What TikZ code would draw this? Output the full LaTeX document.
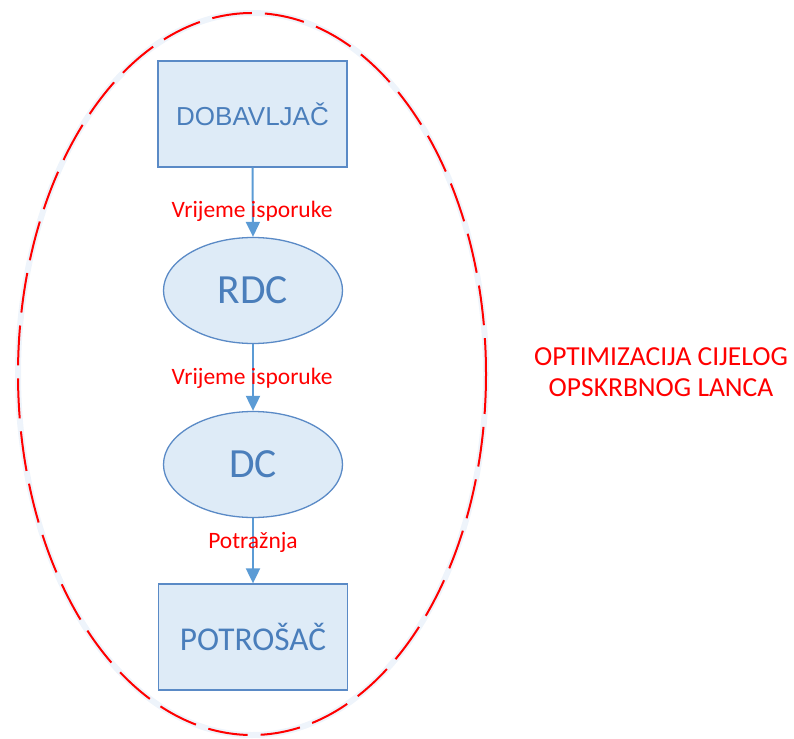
\documentclass[tikz,border=0pt]{standalone}
\usepackage{fontspec}
\setmainfont{Carlito}
\newfontfamily\arialf{Liberation Sans}
\usetikzlibrary{arrows.meta}
\usetikzlibrary{shapes.geometric}
\definecolor{boxfill}{HTML}{DEEBF7}
\definecolor{boxline}{HTML}{5A8AC6}
\definecolor{boxtext}{HTML}{4A7EBB}
\definecolor{arrowc}{HTML}{5B9BD5}
\definecolor{halo}{HTML}{EEF4FB}
\definecolor{myred}{HTML}{FF0000}
\tikzset{
  x=1pt,y=-1pt,
  rectbox/.style={draw=boxline,fill=boxfill,line width=1.3pt,minimum width=189pt,minimum height=106pt,inner sep=0pt,text=boxtext},
  ellbox/.style={draw=boxline,fill=boxfill,line width=1.3pt,ellipse,minimum width=179pt,minimum height=106pt,inner sep=0pt,text=boxtext,font=\fontsize{41.5}{46}\selectfont},
  flow/.style={draw=arrowc,line width=2pt,-{Triangle[length=15pt,width=14pt]}},
  lbl/.style={text=myred,font=\fontsize{23.5}{26}\selectfont,inner sep=0pt},
}
\begin{document}
\begin{tikzpicture}
\useasboundingbox (0,0) rectangle (794,738);
\draw[halo,line width=6pt] (252,374) ellipse [x radius=234, y radius=361];
\draw[myred,line width=2pt,dash pattern=on 40pt off 13pt] (252,374) ellipse [x radius=234, y radius=361];
\node[rectbox,font=\arialf\fontsize{26}{30}\selectfont] (dob) at (252.5,114) {DOBAVLJAČ};
\node[ellbox] (rdc) at (253,290.5) {RDC};
\node[ellbox] (dc) at (253,464.5) {DC};
\node[rectbox,font=\fontsize{33.3}{38}\selectfont] (pot) at (253,637) {POTROŠAČ};
\draw[flow] (dob.south) -- (rdc.north);
\draw[flow] (rdc.south) -- (dc.north);
\draw[flow] (dc.south) -- (pot.north);
\node[lbl] (l1) at (252,211) {Vrijeme isporuke};
\node[lbl] (l2) at (252,378) {Vrijeme isporuke};
\node[lbl] (l3) at (253,542) {Potražnja};
\node[text=myred,font=\fontsize{27.5}{31}\selectfont,align=center,inner sep=0pt] (opt) at (661,372) {OPTIMIZACIJA CIJELOG\\OPSKRBNOG LANCA};
\end{tikzpicture}
\end{document}
